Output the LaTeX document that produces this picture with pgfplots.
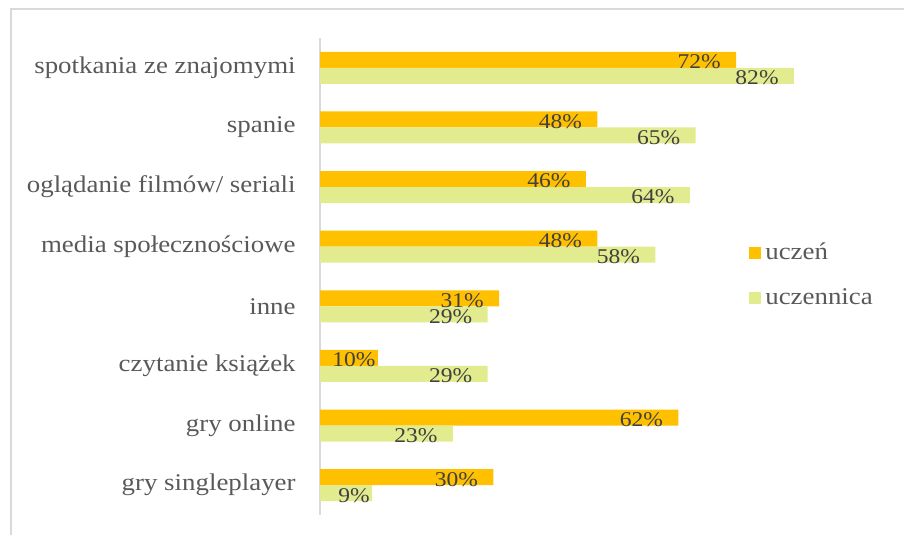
\documentclass[border=0pt]{standalone}
\usepackage{fontspec}
\setmainfont{Liberation Serif}[FakeStretch=1.12]
\usepackage{pgfplots}
\pgfplotsset{compat=1.18}
\definecolor{uczen}{HTML}{FFC000}
\definecolor{uczennica}{HTML}{E2EC8F}
\definecolor{labelgray}{HTML}{595959}
\definecolor{valgray}{HTML}{404040}
\definecolor{linegray}{HTML}{D9D9D9}
\begin{document}
\begin{tikzpicture}
\useasboundingbox (0,0) rectangle (452pt,267.5pt);
\draw[linegray, line width=1pt] (5.5pt,0) -- (5.5pt,263pt) -- (452pt,263pt);
\begin{axis}[
    at={(160pt,10pt)}, anchor=south west,
    scale only axis,
    width=237pt, height=238.5pt,
    xmin=0, xmax=82,
    ymin=-0.5, ymax=7.5,
    axis x line=none,
    axis y line=left,
    y axis line style={-, draw=linegray, line width=1pt},
    ytick={0,...,7},
    yticklabels={gry singleplayer, gry online, czytanie książek, inne, media społecznościowe, oglądanie filmów/ seriali, spanie, spotkania ze znajomymi},
    major tick length=0pt,
    ytick style={draw=none},
    yticklabel style={font=\fontsize{12}{14}\selectfont, text=labelgray, inner sep=0pt, xshift=-12pt},
    /pgf/number format/assume math mode=true,
    xbar, bar width=8pt,
    visualization depends on={x \as \rawx},
    nodes near coords={\pgfmathprintnumber{\pgfplotspointmeta}\%},
    every node near coord/.append style={anchor=east, xshift={(\rawx<12 ? -1 : -7.5)*1pt}, yshift=-1pt, text=valgray, font=\fontsize{10.5}{12}\selectfont, inner sep=0pt},
    legend style={at={(0.905,0.503)}, anchor=west, draw=none, fill=none, inner sep=0pt,
        font=\fontsize{12}{14}\selectfont, text=labelgray, row sep=9pt, cells={anchor=west}},
    legend image code/.code={\fill[#1] (0pt,-3pt) rectangle (6pt,3pt);},
]
\addplot[draw=none, fill=uczen, bar shift=4pt] coordinates {
    (30,0) (62,1) (10,2) (31,3) (48,4) (46,5) (48,6) (72,7)
};
\addplot[draw=none, fill=uczennica, bar shift=-4pt] coordinates {
    (9,0) (23,1) (29,2) (29,3) (58,4) (64,5) (65,6) (82,7)
};
\legend{uczeń, uczennica}
\end{axis}
\end{tikzpicture}
\end{document}
